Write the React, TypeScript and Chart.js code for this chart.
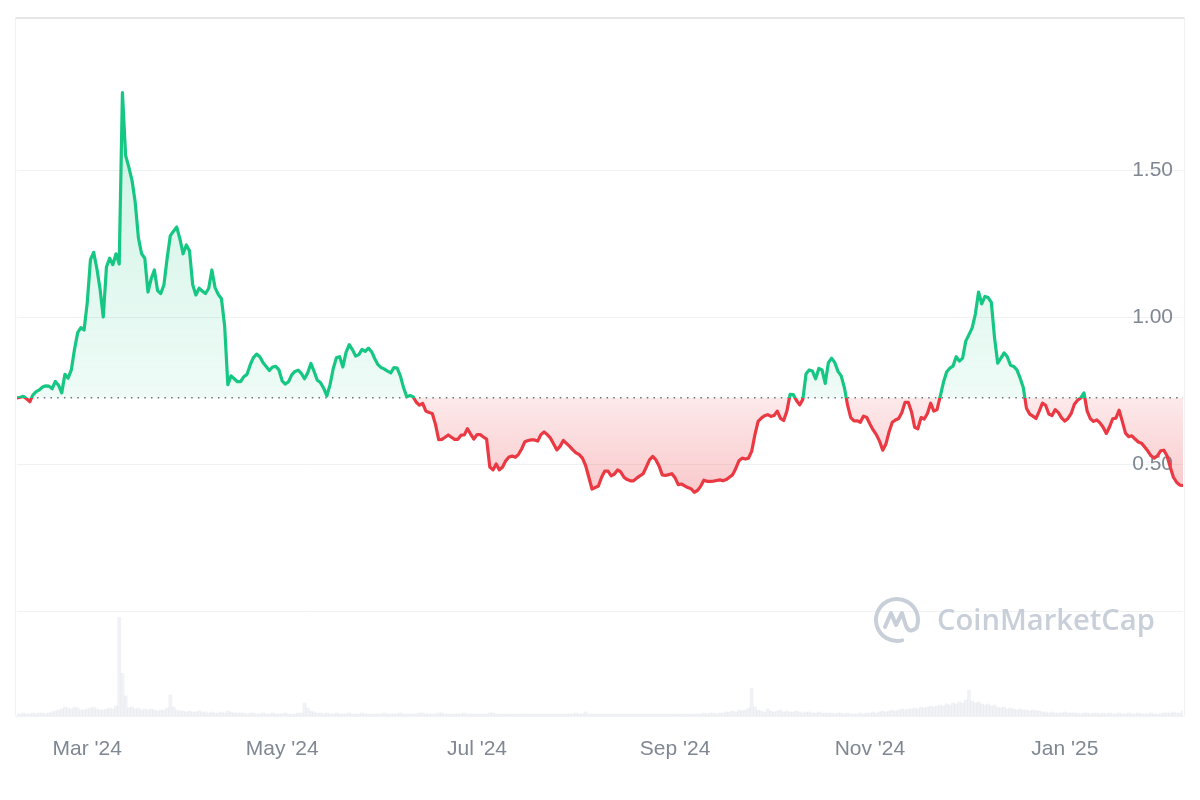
import React, { useEffect, useRef } from 'react';
import { Chart, registerables } from 'chart.js';

Chart.register(...registerables);

// ---- data ----
const startDate = '2024-02-08';
const baselinePrice = 0.725;

const prices = [
  0.725, 0.727, 0.73, 0.722, 0.712, 0.735, 0.746, 0.752, 0.762, 0.766,
  0.765, 0.756, 0.781, 0.768, 0.742, 0.805, 0.792, 0.82, 0.89, 0.947,
  0.964, 0.956, 1.05, 1.195, 1.22, 1.165, 1.095, 1.0, 1.17, 1.2,
  1.178, 1.215, 1.18, 1.763, 1.55, 1.51, 1.465, 1.39, 1.27, 1.215,
  1.2, 1.085, 1.13, 1.16, 1.09, 1.08, 1.11, 1.2, 1.277, 1.292,
  1.306, 1.266, 1.215, 1.245, 1.225, 1.11, 1.075, 1.098, 1.088, 1.08,
  1.097, 1.16, 1.1, 1.077, 1.062, 0.97, 0.77, 0.8, 0.79, 0.78,
  0.78, 0.797, 0.805, 0.837, 0.862, 0.874, 0.865, 0.845, 0.832, 0.818,
  0.83, 0.832, 0.82, 0.783, 0.772, 0.78, 0.803, 0.815, 0.819, 0.808,
  0.79, 0.81, 0.842, 0.815, 0.785, 0.777, 0.758, 0.732, 0.77, 0.825,
  0.862, 0.865, 0.83, 0.88, 0.906, 0.889, 0.867, 0.872, 0.89, 0.883,
  0.894, 0.882, 0.858, 0.838, 0.828, 0.823, 0.816, 0.81, 0.828, 0.826,
  0.8, 0.76, 0.729, 0.733, 0.729, 0.71, 0.7, 0.706, 0.68, 0.675,
  0.672, 0.635, 0.583, 0.584, 0.591, 0.599, 0.591, 0.584, 0.584, 0.598,
  0.599, 0.62, 0.602, 0.585, 0.6, 0.6, 0.592, 0.585, 0.49, 0.48,
  0.5, 0.48, 0.49, 0.511, 0.524, 0.527, 0.523, 0.533, 0.552, 0.576,
  0.58, 0.582, 0.582, 0.578, 0.6, 0.609, 0.6, 0.588, 0.568, 0.548,
  0.56, 0.58, 0.57, 0.56, 0.548, 0.538, 0.532, 0.52, 0.495, 0.455,
  0.415, 0.42, 0.425, 0.455, 0.476, 0.476, 0.46, 0.466, 0.48, 0.473,
  0.455, 0.447, 0.443, 0.443, 0.452, 0.46, 0.467, 0.49, 0.514, 0.526,
  0.514, 0.493, 0.463, 0.461, 0.464, 0.467, 0.453, 0.43, 0.432, 0.426,
  0.42, 0.416, 0.404, 0.41, 0.424, 0.445, 0.441, 0.441, 0.442, 0.444,
  0.446, 0.443, 0.447, 0.455, 0.463, 0.485, 0.511, 0.52, 0.517, 0.52,
  0.544, 0.6, 0.645, 0.656, 0.664, 0.668, 0.662, 0.665, 0.68, 0.655,
  0.648, 0.68, 0.737, 0.736, 0.716, 0.701, 0.72, 0.807, 0.82, 0.816,
  0.79, 0.825, 0.82, 0.774, 0.845, 0.86, 0.845, 0.815, 0.8, 0.76,
  0.7, 0.658, 0.647, 0.647, 0.642, 0.663, 0.658, 0.636, 0.616, 0.6,
  0.578, 0.547, 0.568, 0.61, 0.642, 0.65, 0.655, 0.675, 0.71, 0.71,
  0.678, 0.625, 0.62, 0.658, 0.653, 0.672, 0.707, 0.68, 0.685, 0.73,
  0.777, 0.813, 0.826, 0.833, 0.865, 0.85, 0.86, 0.918, 0.94, 0.963,
  1.01, 1.085, 1.045, 1.07, 1.066, 1.05, 0.93, 0.843, 0.86, 0.878,
  0.865, 0.836, 0.832, 0.82, 0.793, 0.76, 0.69, 0.67, 0.663, 0.655,
  0.68, 0.707, 0.7, 0.67, 0.665, 0.685, 0.675, 0.657, 0.646, 0.655,
  0.672, 0.703, 0.717, 0.725, 0.742, 0.68, 0.654, 0.645, 0.65, 0.64,
  0.625, 0.604, 0.626, 0.654, 0.656, 0.683, 0.645, 0.605, 0.593, 0.596,
  0.585, 0.575, 0.571, 0.558, 0.544, 0.528, 0.52, 0.528, 0.545, 0.547,
  0.528, 0.49, 0.455, 0.438, 0.428, 0.427,
];

// daily traded volume (arbitrary units, e.g. millions)
const volumes = [
  0.2, 0.2, 0.3, 0.2, 0.2, 0.3, 0.2, 0.3, 0.3, 0.2, 0.3,
  0.4, 0.5, 0.6, 0.7, 0.9, 0.8, 0.7, 0.9, 0.8, 0.6, 0.6, 0.7, 0.8, 0.9, 0.7, 0.6, 0.6, 0.7, 0.8, 0.7, 1.0,
  9.9, 4.3, 2.0,
  0.8, 0.9, 0.7, 0.8, 0.6, 0.7, 0.6, 0.7, 0.6, 0.5, 0.6, 0.6, 0.8,
  2.1, 0.9,
  0.6, 0.5, 0.5, 0.4, 0.5, 0.4, 0.4, 0.5, 0.4, 0.4, 0.3, 0.4, 0.3, 0.3, 0.4, 0.3, 0.5, 0.4, 0.3, 0.3,
  0.3, 0.3, 0.2, 0.3, 0.3, 0.2, 0.2, 0.3, 0.2, 0.2, 0.3, 0.2, 0.2, 0.2, 0.3, 0.2, 0.2, 0.2, 0.3, 0.3,
  1.3, 0.8, 0.5,
  0.4, 0.3, 0.3, 0.2, 0.3, 0.2, 0.2, 0.3, 0.2, 0.2,
  0.2, 0.3, 0.2, 0.2, 0.2, 0.3, 0.2, 0.2, 0.2, 0.2,
  0.2, 0.2, 0.3, 0.2, 0.2, 0.2, 0.2, 0.3, 0.2, 0.2,
  0.2, 0.2, 0.2, 0.3, 0.3, 0.2, 0.2, 0.2, 0.2, 0.3,
  0.3, 0.2, 0.2, 0.2, 0.2, 0.2, 0.2, 0.3, 0.2, 0.2,
  0.2, 0.2, 0.2, 0.2, 0.2, 0.3, 0.3, 0.2, 0.2, 0.2,
  0.2, 0.2, 0.2, 0.2, 0.2, 0.2, 0.2, 0.2, 0.2, 0.2,
  0.2, 0.2, 0.2, 0.2, 0.2, 0.2, 0.2, 0.2, 0.2, 0.2,
  0.2, 0.2, 0.3, 0.2, 0.2, 0.4, 0.2, 0.2, 0.2, 0.2,
  0.2, 0.2, 0.2, 0.2, 0.2, 0.2, 0.2, 0.2, 0.2, 0.2,
  0.2, 0.2, 0.2, 0.2, 0.2, 0.2, 0.2, 0.2, 0.2, 0.2,
  0.2, 0.2, 0.2, 0.2, 0.2, 0.2, 0.2, 0.2, 0.2, 0.2,
  0.2, 0.2, 0.3, 0.2, 0.3, 0.3, 0.2, 0.3, 0.3, 0.4,
  0.4, 0.5, 0.4, 0.6, 0.5, 0.6, 0.8,
  2.8, 0.9, 0.6,
  0.5, 0.4, 0.7, 0.5, 0.4, 0.5, 0.6, 0.4, 0.5, 0.4,
  0.4, 0.5, 0.4, 0.3, 0.4, 0.4, 0.3, 0.3, 0.4, 0.3,
  0.3, 0.3, 0.3, 0.2, 0.3, 0.3, 0.2, 0.3, 0.2, 0.2,
  0.2, 0.3, 0.2, 0.3, 0.3, 0.4, 0.3, 0.4, 0.5, 0.4,
  0.5, 0.6, 0.5, 0.6, 0.7, 0.6, 0.7,
  0.7, 0.8, 0.7, 0.9, 0.8, 0.9, 1.0, 0.9, 1.0, 1.1,
  1.0, 1.2, 1.1, 1.3, 1.2, 1.4, 1.3, 1.6, 2.6, 1.5,
  1.3, 1.4, 1.2, 1.1, 1.2, 1.0, 1.1, 0.9, 0.8, 0.9,
  0.7, 0.8, 0.7, 0.6, 0.7, 0.6, 0.6, 0.5, 0.6, 0.5,
  0.5,
  0.4, 0.4, 0.3, 0.4, 0.3, 0.3, 0.3, 0.4, 0.3, 0.3,
  0.3, 0.3, 0.2, 0.3, 0.3, 0.2, 0.3, 0.3, 0.2, 0.3,
  0.2, 0.3, 0.2, 0.2, 0.3, 0.2, 0.2, 0.3, 0.2, 0.2,
  0.3, 0.2, 0.2, 0.2, 0.3, 0.2, 0.2, 0.2, 0.3, 0.3,
  0.3, 0.4, 0.3, 0.3, 0.5,
];

const priceTicks = [0, 0.5, 1.0, 1.5];
const monthTickDates = ['2024-03-01', '2024-05-01', '2024-07-01', '2024-09-01', '2024-11-01', '2025-01-01'];
const monthTickLabels = ["Mar '24", "May '24", "Jul '24", "Sep '24", "Nov '24", "Jan '25"];

// ---- styling ----
const GREEN = '#16c784';
const RED = '#ea3943';
const LABEL_COLOR = '#7f8792';
const FONT = "'Liberation Sans', Arial, sans-serif";

const dayOf = (d: string) => Math.round((Date.parse(d) - Date.parse(startDate)) / 86400000);

function strokeGradient(context: any) {
  const chart = context.chart;
  const { ctx, chartArea, scales } = chart;
  if (!chartArea || !scales.y) return GREEN;
  const yb = scales.y.getPixelForValue(baselinePrice);
  const t = Math.min(1, Math.max(0, (yb - chartArea.top) / (chartArea.bottom - chartArea.top)));
  const g = ctx.createLinearGradient(0, chartArea.top, 0, chartArea.bottom);
  g.addColorStop(0, GREEN);
  g.addColorStop(t, GREEN);
  g.addColorStop(t, RED);
  g.addColorStop(1, RED);
  return g;
}

function fillGradient(context: any) {
  const chart = context.chart;
  const { ctx, chartArea, scales } = chart;
  if (!chartArea || !scales.y) return 'rgba(22,199,132,0.1)';
  const yTop = scales.y.getPixelForValue(Math.max(...prices));
  const yBot = scales.y.getPixelForValue(Math.min(...prices));
  const yb = scales.y.getPixelForValue(baselinePrice);
  const t = (yb - yTop) / (yBot - yTop);
  const g = ctx.createLinearGradient(0, yTop, 0, yBot);
  g.addColorStop(0, 'rgba(22,199,132,0.22)');
  g.addColorStop(t, 'rgba(22,199,132,0.07)');
  g.addColorStop(t, 'rgba(234,57,67,0.11)');
  g.addColorStop(1, 'rgba(234,57,67,0.27)');
  return g;
}

const framePlugin = {
  id: 'frame',
  beforeDatasetsDraw(chart: any) {
    const { ctx, chartArea } = chart;
    ctx.save();
    ctx.strokeStyle = '#f1f2f4';
    ctx.lineWidth = 1;
    ctx.beginPath();
    ctx.moveTo(chartArea.left - 1.5, chartArea.top);
    ctx.lineTo(chartArea.left - 1.5, chartArea.bottom);
    ctx.moveTo(chartArea.right + 1.5, chartArea.top);
    ctx.lineTo(chartArea.right + 1.5, chartArea.bottom);
    ctx.moveTo(chartArea.left - 1.5, chartArea.bottom + 0.5);
    ctx.lineTo(chartArea.right + 1.5, chartArea.bottom + 0.5);
    ctx.stroke();
    ctx.strokeStyle = '#e4e5e7';
    ctx.lineWidth = 2;
    ctx.beginPath();
    ctx.moveTo(chartArea.left - 1.5, chartArea.top);
    ctx.lineTo(chartArea.right + 1.5, chartArea.top);
    ctx.stroke();

    // watermark
    const wmColor = '#c9cfd9';
    const cx = chartArea.right - 286;
    const cy = chartArea.bottom - 96;
    ctx.strokeStyle = wmColor;
    ctx.lineWidth = 4;
    ctx.lineCap = 'round';
    ctx.lineJoin = 'round';
    ctx.beginPath();
    ctx.arc(cx, cy, 21, 0.42 * Math.PI, 2.12 * Math.PI);
    ctx.stroke();
    ctx.beginPath();
    ctx.moveTo(cx - 12, cy + 7);
    ctx.lineTo(cx - 6, cy - 7);
    ctx.lineTo(cx - 1, cy + 5);
    ctx.lineTo(cx + 5, cy - 7);
    ctx.lineTo(cx + 9, cy + 6);
    ctx.quadraticCurveTo(cx + 12, cy + 13, cx + 18, cy + 9);
    ctx.stroke();
    ctx.fillStyle = wmColor;
    let size = 30;
    ctx.font = `600 ${size}px 'Open Sans', 'Noto Sans', sans-serif`;
    const w = ctx.measureText('CoinMarketCap').width;
    size = size * 218 / w;
    ctx.font = `600 ${size}px 'Open Sans', 'Noto Sans', sans-serif`;
    ctx.textBaseline = 'middle';
    ctx.textAlign = 'left';
    ctx.fillText('CoinMarketCap', cx + 40, cy + 2);
    ctx.restore();
  },
};

export default function App() {
  const canvasRef = useRef<HTMLCanvasElement | null>(null);

  useEffect(() => {
    const canvas = canvasRef.current;
    if (!canvas) return;
    const tickDays = monthTickDates.map(dayOf);
    const lastDay = prices.length - 1;

    const chart = new Chart(canvas, {
      type: 'line',
      data: {
        datasets: [
          {
            type: 'line',
            label: 'Price',
            data: prices.map((p, i) => ({ x: i, y: p })),
            yAxisID: 'y',
            borderColor: strokeGradient,
            backgroundColor: fillGradient,
            fill: { target: { value: baselinePrice } },
            borderWidth: 3.2,
            borderJoinStyle: 'round',
            borderCapStyle: 'round',
            pointRadius: 0,
            tension: 0,
            order: 1,
          } as any,
          {
            type: 'line',
            label: 'Baseline',
            data: [
              { x: 0, y: baselinePrice },
              { x: lastDay, y: baselinePrice },
            ],
            yAxisID: 'y',
            borderColor: '#6b6f76',
            borderWidth: 1.5,
            borderDash: [1.5, 5.2],
            pointRadius: 0,
            fill: false,
            order: 2,
          } as any,
          {
            type: 'bar',
            label: 'Volume',
            data: volumes.map((v, i) => ({ x: i, y: v })),
            yAxisID: 'vol',
            backgroundColor: 'rgba(210,215,225,0.32)',
            barPercentage: 1,
            categoryPercentage: 1,
            borderWidth: 0,
            order: 3,
          } as any,
        ],
      },
      options: {
        responsive: false,
        animation: false,
        devicePixelRatio: 1,
        layout: { padding: { left: 17, right: 17, top: 18, bottom: 0 } },
        plugins: {
          legend: { display: false },
          tooltip: { enabled: false },
          filler: { drawTime: 'beforeDatasetsDraw' },
        },
        scales: {
          x: {
            type: 'linear',
            min: 0,
            max: lastDay,
            offset: false,
            grid: { display: false, offset: false },
            border: { display: false },
            afterBuildTicks: (scale: any) => {
              scale.ticks = tickDays.map((v) => ({ value: v }));
            },
            afterFit: (scale: any) => {
              scale.height = 84;
            },
            ticks: {
              autoSkip: false,
              maxRotation: 0,
              padding: 13,
              color: LABEL_COLOR,
              font: { family: FONT, size: 21 },
              callback: (_v: any, idx: number) => monthTickLabels[idx],
            },
          },
          y: {
            type: 'linear',
            position: 'right',
            min: -0.357,
            max: 2.017,
            grid: { color: '#eff1f3', lineWidth: 1, drawTicks: false },
            border: { display: false },
            afterBuildTicks: (scale: any) => {
              scale.ticks = priceTicks.map((v) => ({ value: v }));
            },
            afterFit: (scale: any) => {
              scale.width = 0;
            },
            ticks: {
              mirror: true,
              padding: -10,
              color: LABEL_COLOR,
              font: { family: FONT, size: 21 },
              callback: (v: any) => (Number(v) === 0 ? '' : Number(v).toFixed(2)),
            },
          },
          vol: {
            type: 'linear',
            display: false,
            min: 0,
            max: 70,
          },
        },
      } as any,
      plugins: [framePlugin],
    });

    return () => {
      chart.destroy();
    };
  }, []);

  return (
    <div style={{ position: 'fixed', left: 0, top: 0, width: 1200, height: 800, background: '#ffffff' }}>
      <canvas ref={canvasRef} width={1200} height={800} style={{ display: 'block' }} />
    </div>
  );
}
